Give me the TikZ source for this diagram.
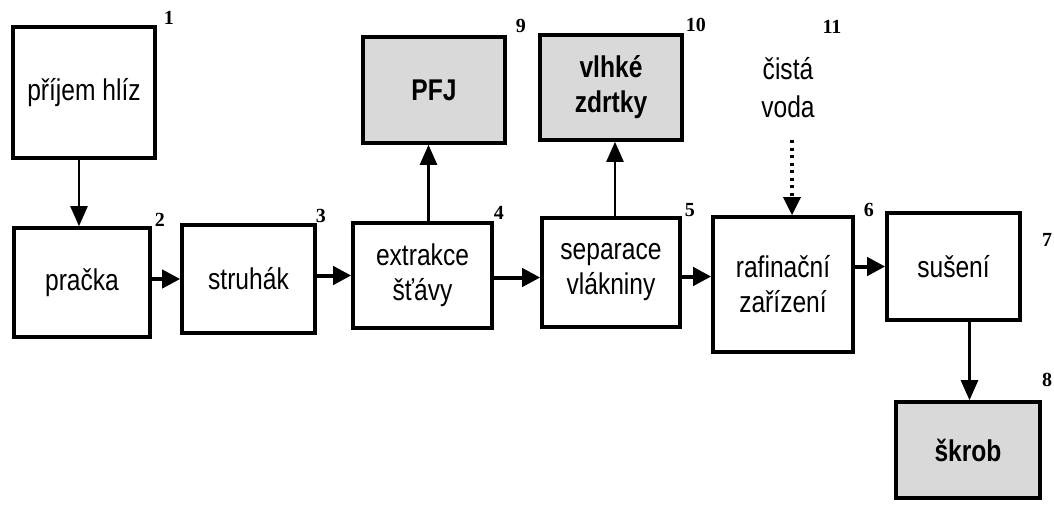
\documentclass[tikz,border=0pt]{standalone}
\usepackage{fontspec}
\setmainfont{Liberation Sans}[FakeStretch=0.82]
\newfontfamily\numfont{Liberation Serif}
\usetikzlibrary{arrows.meta,calc}
\definecolor{boxgray}{HTML}{D9D9D9}
\tikzset{
  box/.style={draw=black, line width=3.6pt, fill=white, inner sep=0pt, align=center,
    font=\fontsize{30}{35}\selectfont},
  gbox/.style={box, fill=boxgray, font=\fontsize{30}{35}\selectfont\bfseries},
  num/.style={font=\numfont\fontsize{20}{20}\selectfont\bfseries, inner sep=0pt},
  arr/.style={line width=2.5pt, -{Triangle[length=20pt,width=17pt]}},
  harr/.style={line width=4pt, -{Triangle[length=18pt,width=18pt]}},
  darr/.style={line width=3.5pt, dash pattern=on 3pt off 4.5pt, -{Triangle[length=18pt,width=17pt]}},
}
\begin{document}
\begin{tikzpicture}[x=1pt,y=-1pt]
\useasboundingbox[fill=white] (0,0) rectangle (1054,504);
% boxes
\node[box, minimum width=142pt, minimum height=131pt] (b1) at (84,92.5) {příjem hlíz};
\node[box, minimum width=136pt, minimum height=109pt] (b2) at (82,282.5) {pračka};
\node[box, minimum width=133pt, minimum height=108pt] (b3) at (248.5,279) {struhák};
\node[box, minimum width=139pt, minimum height=105pt] (b4) at (422.5,275.5) {extrakce\\šťávy};
\node[box, minimum width=138pt, minimum height=109pt] (b5) at (611,272.5) {separace\\vlákniny};
\node[box, minimum width=140pt, minimum height=135pt] (b6) at (783,284.5) {rafinační\\zařízení};
\node[box, minimum width=133pt, minimum height=107pt] (b7) at (953.5,266.5) {sušení};
\node[gbox, minimum width=142pt, minimum height=106pt] (pfj) at (434,90) {PFJ};
\node[gbox, minimum width=142pt, minimum height=105pt] (vz) at (611,87.5) {vlhké\\zdrtky};
\node[gbox, minimum width=144pt, minimum height=96pt] (sk) at (968,450) {škrob};
\node[align=center, inner sep=0pt, font=\fontsize{30}{38}\selectfont] (cv) at (788,88) {čistá\\voda};
\coordinate (cvs) at (792,140);
% numbers
\node[num] at ([shift={(12,-7)}]b1.north east) {1};
\node[num] at ([shift={(8,-6)}]b2.north east) {2};
\node[num] at ([shift={(4,-7)}]b3.north east) {3};
\node[num] at ([shift={(5,-8)}]b4.north east) {4};
\node[num] at ([shift={(8,-6)}]b5.north east) {5};
\node[num] at ([shift={(14,-5)}]b6.north east) {6};
\node[num] at (1047,240) {7};
\node[num] at (1047,380) {8};
\node[num] at ([shift={(14,-9)}]pfj.north east) {9};
\node[num] at ([shift={(12,-8)}]vz.north east) {10};
\node[num] at (832,27) {11};
% connectors
\draw[arr] ([xshift=-5pt]b1.south) -- ([xshift=-3pt]b2.north);
\draw[harr] (b2.east |- b3.west) -- (b3.west);
\draw[harr] (b3.east |- b4.west) -- (b4.west);
\draw[harr] ([yshift=-2pt]b4.east) -- ([yshift=-2pt]b4.east -| b5.west);
\draw[harr] ([yshift=-4pt]b5.east) -- ([yshift=-4pt]b5.east -| b6.west);
\draw[harr] (b6.east |- b7.west) -- (b7.west);
\draw[arr] ([xshift=6pt]b4.north) -- ([xshift=6pt]b4.north |- pfj.south);
\draw[arr] ([xshift=4pt]b5.north) -- ([xshift=4pt]b5.north |- vz.south);
\draw[darr] (cvs) -- (cvs |- b6.north);
\draw[arr] ([xshift=16pt]b7.south) -- ([xshift=16pt]b7.south |- sk.north);
\end{tikzpicture}
\end{document}
